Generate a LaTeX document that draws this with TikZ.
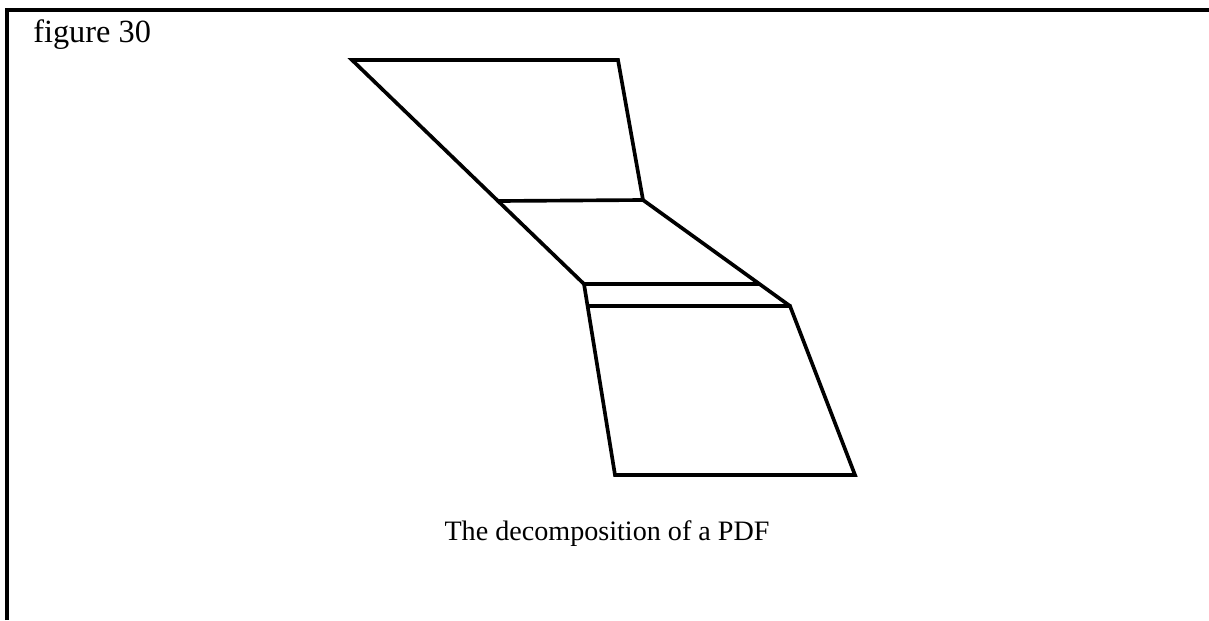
\documentclass[tikz,border=0pt]{standalone}
\usepackage{fontspec}
\setmainfont{Liberation Serif}
\usetikzlibrary{positioning,calc}

\begin{document}
\begin{tikzpicture}[
    x=0.025cm, y=-0.025cm,
    frame/.style={draw=black, line width=3.5pt},
    panel/.style={draw=black, line width=2.6pt, line join=miter},
    caption/.style={font=\fontsize{20}{24}\selectfont, inner sep=0pt}
]

\useasboundingbox (0,0) rectangle (1209,620);

% Frame
\draw[frame] (7,620) -- (7,10) -- (1209,10);
\node[caption, font=\fontsize{23}{27}\selectfont, anchor=base west] (figlabel) at (33,42) {figure 30};

% Corner points
\coordinate (tl) at (352,60);
\coordinate (tr) at (618,60);
\coordinate (ml) at (498,201);
\coordinate (mr) at (643,200);
\coordinate (bl) at (584,284);
\coordinate (br) at (790,306);
\coordinate (fl) at (615,475);
\coordinate (fr) at (855,475);

% Helper points for the two strips
\coordinate (blh) at ($(bl)+(100,0)$);
\coordinate (brh) at ($(br)+(-100,0)$);
\coordinate (sr) at (intersection of mr--br and bl--blh);
\coordinate (sl) at (intersection of bl--fl and br--brh);

% Top panel
\draw[panel] (ml) -- (tl) -- (tr) -- (mr) -- cycle;

% Middle panel
\draw[panel] (ml) -- (bl);
\draw[panel] (mr) -- (br);
\draw[panel] (bl) -- (sr);

% Bottom panel
\draw[panel] (bl) -- (fl) -- (fr) -- (br) -- (sl);

% Caption
\node[caption, anchor=base] (title) at (607,540) {The decomposition of a PDF};

\end{tikzpicture}
\end{document}
